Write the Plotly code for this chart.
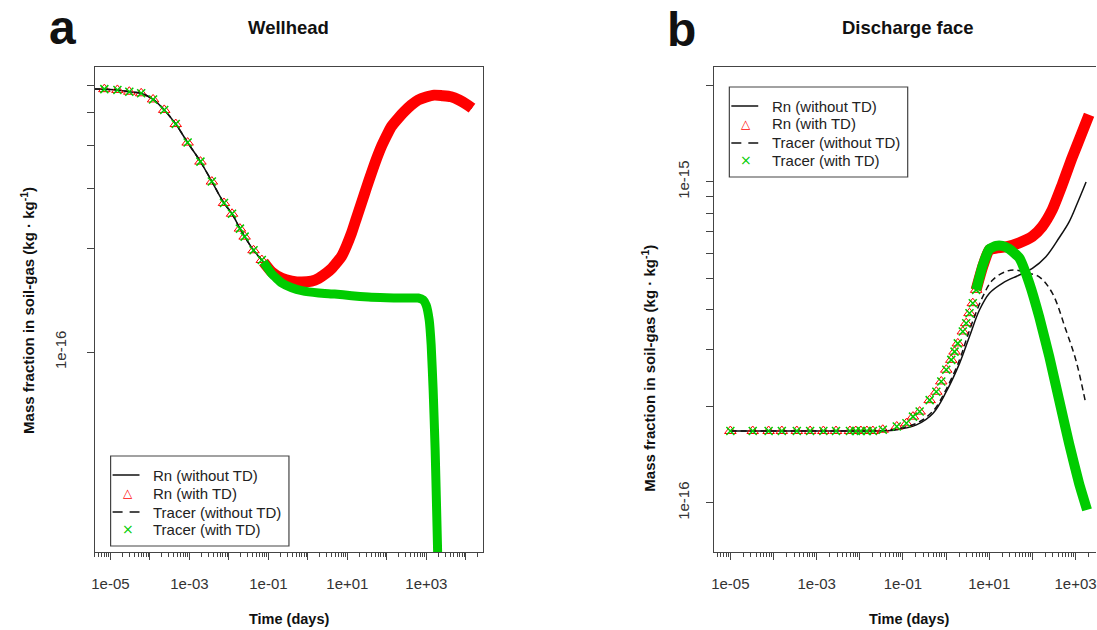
import plotly.graph_objects as go

W, H = 1097, 630

# ---------------- Panel a: Wellhead ----------------
a_t_early = [3.9e-6, 7e-6, 1.5e-5, 3e-5, 6e-5, 1.2e-4, 2.3e-4, 4.5e-4, 9e-4, 1.9e-3,
             3.7e-3, 7.5e-3, 1.2e-2, 1.9e-2, 2.5e-2, 4.2e-2, 6.8e-2]
a_c_early = [5.85e-16, 5.84e-16, 5.81e-16, 5.74e-16, 5.68e-16, 5.45e-16, 5.08e-16, 4.62e-16,
             4.08e-16, 3.59e-16, 3.14e-16, 2.72e-16, 2.53e-16, 2.29e-16, 2.17e-16, 1.98e-16, 1.855e-16]
a_t_rn = [0.075, 0.122, 0.218, 0.389, 0.695, 1.24, 1.87, 2.97, 3.97, 5.31, 7.10, 9.49, 12.7,
          17.0, 22.7, 30.3, 40.5, 54.2, 72.4, 96.9, 129, 195, 275, 414, 621, 988, 1574, 2501,
          4220, 6720, 11140, 14300]
a_c_rn = [1.83e-16, 1.71e-16, 1.64e-16, 1.61e-16, 1.60e-16, 1.61e-16, 1.64e-16, 1.70e-16,
          1.75e-16, 1.82e-16, 1.90e-16, 2.04e-16, 2.22e-16, 2.46e-16, 2.72e-16, 3.01e-16,
          3.32e-16, 3.65e-16, 3.97e-16, 4.26e-16, 4.54e-16, 4.81e-16, 5.02e-16, 5.25e-16,
          5.43e-16, 5.54e-16, 5.61e-16, 5.59e-16, 5.55e-16, 5.43e-16, 5.25e-16, 5.14e-16]
a_t_tr = [0.075, 0.122, 0.218, 0.389, 0.695, 1.87, 4.73, 12.7, 34.1, 96.9, 231, 621, 830,
          988, 1178, 1322, 1484, 1667, 1819, 1928, 2043]
a_c_tr = [1.83e-16, 1.69e-16, 1.59e-16, 1.54e-16, 1.51e-16, 1.486e-16, 1.476e-16, 1.46e-16,
          1.446e-16, 1.44e-16, 1.437e-16, 1.437e-16, 1.418e-16, 1.37e-16, 1.24e-16, 1.048e-16,
          7.75e-17, 5.18e-17, 3.46e-17, 2.61e-17, 1.89e-17]

# ---------------- Panel b: Discharge face ----------------
b_t_mk = [1e-5, 3.3e-5, 7.7e-5, 1.56e-4, 3.47e-4, 7.05e-4, 1.43e-3, 2.81e-3, 5.9e-3, 8.1e-3,
          1.06e-2, 1.46e-2, 2.01e-2, 3.41e-2, 7.2e-2, 0.1205, 0.171, 0.244, 0.416, 0.594,
          0.774, 1.01, 1.32, 1.57, 1.87, 2.44, 2.93, 3.49, 4.16, 4.98]
b_c_mk = [1.675e-16, 1.675e-16, 1.675e-16, 1.675e-16, 1.675e-16, 1.675e-16, 1.675e-16,
          1.675e-16, 1.675e-16, 1.675e-16, 1.675e-16, 1.675e-16, 1.675e-16, 1.69e-16,
          1.73e-16, 1.77e-16, 1.857e-16, 1.925e-16, 2.09e-16, 2.22e-16, 2.39e-16, 2.60e-16,
          2.79e-16, 2.96e-16, 3.14e-16, 3.42e-16, 3.63e-16, 3.90e-16, 4.19e-16, 4.61e-16]
b_t_rn0 = [1e-5, 1e-2, 3.41e-2, 7.2e-2, 0.205, 0.495, 1.01, 2.05, 3.49, 5.94, 10.1, 20.5,
           49.8, 100, 206, 418, 711, 1107, 1758]
b_c_rn0 = [1.675e-16, 1.675e-16, 1.675e-16, 1.69e-16, 1.75e-16, 1.90e-16, 2.22e-16, 2.72e-16,
           3.30e-16, 3.99e-16, 4.50e-16, 4.84e-16, 5.13e-16, 5.38e-16, 5.85e-16, 6.70e-16,
           7.51e-16, 8.60e-16, 1.0e-15]
b_t_tr0 = [1e-5, 1e-2, 3.41e-2, 7.2e-2, 0.205, 0.495, 1.01, 2.05, 2.93, 4.09, 7.08, 12.0,
           24.5, 38.2, 71.1, 144, 288, 597, 1016, 1730]
b_c_tr0 = [1.675e-16, 1.675e-16, 1.68e-16, 1.70e-16, 1.77e-16, 1.93e-16, 2.26e-16, 2.79e-16,
           3.22e-16, 3.66e-16, 4.39e-16, 4.95e-16, 5.26e-16, 5.32e-16, 5.21e-16, 5.06e-16,
           4.51e-16, 3.46e-16, 2.79e-16, 2.04e-16]
b_t_rn = [4.98, 7.08, 10.1, 14.4, 24.5, 49.8, 99.5, 169, 288, 491, 834, 1346, 2062]
b_c_rn = [4.61e-16, 5.45e-16, 6.14e-16, 6.22e-16, 6.27e-16, 6.46e-16, 6.76e-16, 7.26e-16,
          8.18e-16, 9.79e-16, 1.19e-15, 1.40e-15, 1.62e-15]
b_t_tr = [4.98, 7.08, 10.1, 14.4, 20.2, 29.3, 49.8, 84.8, 144, 246, 418, 711, 1211, 1853]
b_c_tr = [4.61e-16, 5.50e-16, 6.18e-16, 6.32e-16, 6.32e-16, 6.18e-16, 5.80e-16, 4.84e-16,
          3.80e-16, 2.86e-16, 2.09e-16, 1.53e-16, 1.15e-16, 9.51e-17]

names = ["Rn (without TD)", "Rn (with TD)", "Tracer (without TD)", "Tracer (with TD)"]
x_major = [1e-5, 1e-4, 1e-3, 1e-2, 1e-1, 1e0, 1e1, 1e2, 1e3, 1e4]
x_labels = ["1e-05", "", "1e-03", "", "1e-01", "", "1e+01", "", "1e+03", ""]
a_y_ticks = [1e-16, 2e-16, 3e-16, 4e-16, 5e-16, 6e-16]
a_y_labels = ["1e-16", "", "", "", "", ""]
b_y_ticks = [1e-16, 2e-16, 3e-16, 4e-16, 5e-16, 6e-16, 7e-16, 8e-16, 9e-16, 1e-15, 2e-15]
b_y_labels = ["1e-16", "", "", "", "", "", "", "", "", "1e-15", ""]

RED = "#FF0000"
GREEN = "#00CC00"
BLACK = "#111111"

fig = go.Figure()


def add_panel(xa, ya, t_rn0, c_rn0, t_mk, c_mk, t_rnb, c_rnb,
              t_tr0, c_tr0, t_trb, c_trb, bw_rn, bw_tr):
    common = dict(xaxis=xa, yaxis=ya, showlegend=False)
    fig.add_trace(go.Scatter(x=t_rn0, y=c_rn0, mode="lines", name=names[0],
                             line=dict(color=BLACK, width=1.5, shape="spline", smoothing=1.0),
                             **common))
    fig.add_trace(go.Scatter(x=t_rnb, y=c_rnb, mode="lines", name=names[1],
                             line=dict(color=RED, width=bw_rn, shape="spline", smoothing=0.6),
                             **common))
    fig.add_trace(go.Scatter(x=t_mk, y=c_mk, mode="markers", name=names[1],
                             marker=dict(symbol="triangle-up-open", size=10, color=RED,
                                         line=dict(color=RED, width=1)), **common))
    fig.add_trace(go.Scatter(x=t_tr0, y=c_tr0, mode="lines", name=names[2],
                             line=dict(color=BLACK, width=1.5, dash="6px,4px",
                                       shape="spline", smoothing=1.0), **common))
    fig.add_trace(go.Scatter(x=t_trb, y=c_trb, mode="lines", name=names[3],
                             line=dict(color=GREEN, width=bw_tr, shape="spline", smoothing=0.4),
                             **common))
    fig.add_trace(go.Scatter(x=t_mk, y=c_mk, mode="markers", name=names[3],
                             marker=dict(symbol="x-thin-open", size=8, color=GREEN,
                                         line=dict(color=GREEN, width=1.5)), **common))


add_panel("x", "y",
          a_t_early + a_t_rn, a_c_early + a_c_rn,
          a_t_early[1:], a_c_early[1:],
          a_t_rn, a_c_rn,
          a_t_early + a_t_tr, a_c_early + a_c_tr,
          a_t_tr, a_c_tr, 11, 9)
add_panel("x2", "y2",
          b_t_rn0, b_c_rn0,
          b_t_mk, b_c_mk,
          b_t_rn, b_c_rn,
          b_t_tr0, b_c_tr0,
          b_t_tr, b_c_tr, 11, 10)

FONT = "Liberation Sans, Arial, sans-serif"
AX = "#444444"
minor_vals = [m * 10 ** e for e in range(-6, 5) for m in range(2, 10)]

xcommon = dict(type="log", showgrid=False, zeroline=False, showline=True, mirror=True,
               linecolor=AX, linewidth=1.2, ticks="outside", ticklen=7, tickcolor=AX,
               tickwidth=1.2, tickmode="array", tickvals=x_major, ticktext=x_labels,
               tickfont=dict(family=FONT, size=15, color="#333333"), ticklabelstandoff=11,
               ticklabeloverflow="allow",
               minor=dict(ticks="outside", ticklen=4, tickcolor=AX, tickwidth=1,
                          tickmode="array", tickvals=minor_vals, showgrid=False))
ycommon = dict(type="log", showgrid=False, zeroline=False, showline=True,
               linecolor=AX, linewidth=1.2, ticks="outside", ticklen=7, tickcolor=AX,
               tickwidth=1.2, tickmode="array", tickangle=-90,
               tickfont=dict(family=FONT, size=15, color="#333333"))

ytop = 1 - 67 / H
ybot = 1 - 552 / H

fig.update_layout(
    width=W, height=H, margin=dict(l=0, r=0, t=0, b=0),
    paper_bgcolor="white", plot_bgcolor="white", showlegend=False,
    xaxis=dict(domain=[92 / W, 482 / W], range=[-5.40, 4.44], anchor="y", **xcommon),
    yaxis=dict(domain=[ybot, ytop], range=[-16.583, -15.169], anchor="x", mirror=True,
               tickvals=a_y_ticks, ticktext=a_y_labels, ticklabelstandoff=15, **ycommon),
    xaxis2=dict(domain=[714 / W, 1.0], range=[-5.37, 3.475], anchor="y2", **xcommon),
    yaxis2=dict(domain=[ybot, ytop], range=[-16.153, -14.642], anchor="x2", mirror=False,
                tickvals=b_y_ticks, ticktext=b_y_labels, ticklabelstandoff=11, **ycommon),
)


def px(x, y):
    return x / W, 1 - y / H


def text(t, x, y, size, anchor="center", angle=0, color="#111111", family=FONT):
    xx, yy = px(x, y)
    fig.add_annotation(text=t, x=xx, y=yy, xref="paper", yref="paper", xanchor=anchor,
                       yanchor="middle", showarrow=False, textangle=angle,
                       font=dict(family=family, size=size, color=color))


text("<b>a</b>", 60, 28, 48)
text("<b>b</b>", 681, 29, 48)
text("<b>Wellhead</b>", 287, 28, 18.5)
text("<b>Discharge face</b>", 908, 28, 18.5)
text("<b>Time (days)</b>", 287, 619, 14.5)
text("<b>Time (days)</b>", 909, 619, 14.5)
ytitle = "<b>Mass fraction in soil-gas (kg \u00b7 kg<sup>-1</sup>)</b>"
text(ytitle, 24, 310, 15, angle=-90)
text(ytitle, 647, 368, 15, angle=-90)


# legends (box, line samples, symbol samples, labels)
def legend(x0, y0):
    bx0, by0 = px(x0, y0)
    bx1, by1 = px(x0 + 179, y0 + 90)
    fig.add_shape(type="rect", xref="paper", yref="paper", x0=bx0, y0=by1, x1=bx1, y1=by0,
                  line=dict(color=AX, width=1.2), fillcolor="white", layer="above")
    rows = [19, 37, 56, 73]
    lx0, ly = px(x0 + 2, y0 + rows[0])
    lx1, _ = px(x0 + 29, y0 + rows[0])
    fig.add_shape(type="line", xref="paper", yref="paper", x0=lx0, x1=lx1, y0=ly, y1=ly,
                  line=dict(color=BLACK, width=1.5), layer="above")
    lx0, ly = px(x0 + 2, y0 + rows[2])
    fig.add_shape(type="line", xref="paper", yref="paper", x0=lx0, x1=lx1, y0=ly, y1=ly,
                  line=dict(color=BLACK, width=1.5, dash="10px,7px"), layer="above")
    text("\u25b3", x0 + 17, y0 + rows[1], 12, color=RED, family="DejaVu Sans")
    text("\u00d7", x0 + 17, y0 + rows[3], 14, color=GREEN, family="DejaVu Sans")
    for r, n in zip(rows, names):
        text(n, x0 + 41, y0 + r, 15, anchor="left", color="#222222")


legend(108, 456)
legend(729, 87)

fig.write_html("out.html", config={"displayModeBar": False},
               post_script="document.body.style.margin='0px';")
